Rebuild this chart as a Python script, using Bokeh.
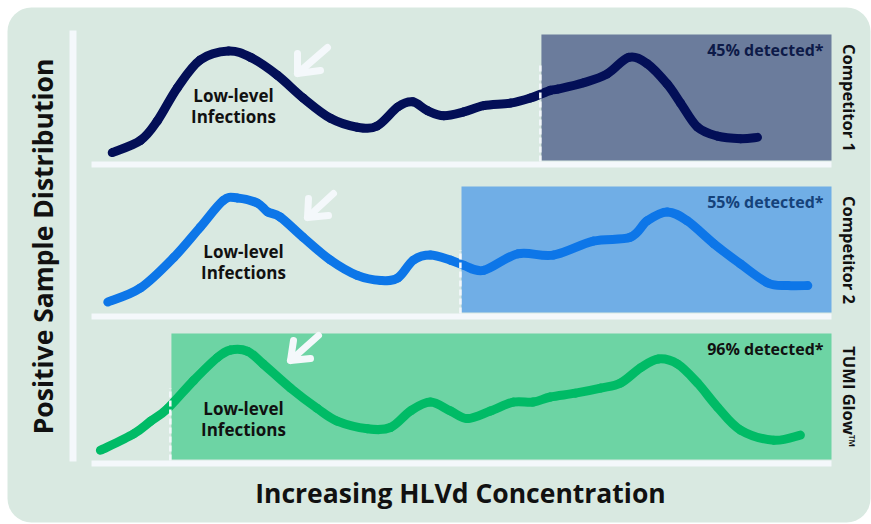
import math
from bokeh.plotting import figure
from bokeh.models import Range1d, BoxAnnotation
from bokeh.core.properties import value
from bokeh.embed import file_html
from bokeh.resources import INLINE

# ---------------- data ----------------
series_names = ["Competitor 1", "Competitor 2", "TUMI Glow™"]
detected_labels = ["45% detected*", "55% detected*", "96% detected*"]
detect_threshold = [60.8, 50.0, 10.8]          # concentration where detection starts
x_label = "Increasing HLVd Concentration"
y_label = "Positive Sample Distribution"
note_text = ["Low-level", "Infections"]

c1_x = [2.8, 6.6, 8.9, 11.6, 14.7, 18.5, 21.5, 25.1, 28.6, 32.3, 35.9, 38.6, 41.4, 43.4,
        45.4, 47.6, 50.3, 53.0, 56.6, 59.3, 62.0, 63.0, 66.5, 69.7, 72.6, 75.1, 77.8,
        79.6, 81.9, 84.6, 87.7, 90.0]
c1_y = [0.07, 0.165, 0.32, 0.58, 0.80, 0.87, 0.82, 0.68, 0.50, 0.34, 0.27, 0.28, 0.43, 0.47,
        0.40, 0.36, 0.39, 0.44, 0.46, 0.50, 0.56, 0.57, 0.62, 0.69, 0.82, 0.77, 0.61,
        0.46, 0.27, 0.20, 0.18, 0.19]

c2_x = [2.2, 6.6, 11.1, 14.7, 17.8, 19.7, 22.4, 23.8, 25.5, 28.6, 32.3, 35.9, 39.1, 41.4,
        43.5, 45.8, 48.5, 50.3, 53.0, 57.6, 62.4, 67.8, 72.8, 75.1, 77.8, 80.5, 84.1,
        87.7, 91.4, 94.1, 96.8]
c2_y = [0.09, 0.20, 0.44, 0.68, 0.89, 0.91, 0.87, 0.80, 0.76, 0.60, 0.42, 0.30, 0.26, 0.28,
        0.42, 0.46, 0.42, 0.38, 0.34, 0.47, 0.46, 0.57, 0.60, 0.73, 0.80, 0.73, 0.55,
        0.39, 0.24, 0.22, 0.22]

c3_x = [1.2, 5.7, 8.0, 10.3, 13.8, 17.0, 18.8, 21.1, 23.2, 26.9, 30.5, 33.2, 37.3, 40.4,
        43.1, 45.8, 48.5, 50.8, 53.9, 57.0, 59.7, 62.0, 65.4, 68.8, 71.5, 74.2, 76.6,
        79.2, 81.9, 84.6, 87.7, 92.2, 95.8]
c3_y = [0.08, 0.21, 0.31, 0.41, 0.63, 0.81, 0.87, 0.86, 0.76, 0.57, 0.41, 0.31, 0.25, 0.26,
        0.39, 0.46, 0.39, 0.33, 0.39, 0.46, 0.46, 0.50, 0.53, 0.57, 0.61, 0.73, 0.80,
        0.76, 0.61, 0.42, 0.24, 0.16, 0.20]

curves_x = [c1_x, c2_x, c3_x]
curves_y = [c1_y, c2_y, c3_y]

# ---------------- layout / style ----------------
W, H = 871, 524
X0PX, X1PX = 91, 831          # pixel span of concentration 0..100
BASE_PX = [161, 313, 460]     # baseline of each panel
PANEL_H = 127

def X(px):
    return (px - X0PX) * 100.0 / (X1PX - X0PX)

def Y(py):
    return (BASE_PX[2] - py) / PANEL_H

def smooth_segments(xs, ys):
    """Catmull-Rom through the data points, as cubic Bezier segments (drawing only)."""
    n = len(xs)
    seg = dict(x0=[], y0=[], x1=[], y1=[], cx0=[], cy0=[], cx1=[], cy1=[])
    for i in range(n - 1):
        i0, i3 = max(i - 1, 0), min(i + 2, n - 1)
        seg["x0"].append(xs[i]); seg["y0"].append(ys[i])
        seg["x1"].append(xs[i + 1]); seg["y1"].append(ys[i + 1])
        seg["cx0"].append(xs[i] + (xs[i + 1] - xs[i0]) / 6)
        seg["cy0"].append(ys[i] + (ys[i + 1] - ys[i0]) / 6)
        seg["cx1"].append(xs[i + 1] - (xs[i3] - xs[i]) / 6)
        seg["cy1"].append(ys[i + 1] - (ys[i3] - ys[i]) / 6)
    return seg

offsets = [Y(b) for b in BASE_PX]
line_colors = ["#030f57", "#0d76e8", "#00bb66"]
box_colors = ["#6b7c9c", "#70aee6", "#6dd4a4"]
det_colors = ["#0d1a48", "#15427a", "#111111"]
dash_tops = [0.77, 0.50, 0.57]
WHITE = "#f4f8fb"
BG = "#d9e9e1"
FONT = value("Open Sans")

p = figure(width=W, height=H, output_backend="svg", toolbar_location=None,
           x_range=Range1d(X(0), X(W)), y_range=Range1d(Y(H), Y(0)),
           x_axis_location=None, y_axis_location=None, min_border=0,
           background_fill_color="white", border_fill_color="white")
p.grid.visible = False
p.outline_line_color = None

p.add_layout(BoxAnnotation(left=X(7), right=X(870), top=Y(7), bottom=Y(522),
                           border_radius=24, fill_color=BG, fill_alpha=1,
                           line_color=None, level="underlay"))

# left axis bar
p.quad(left=[X(69)], right=[X(76)], bottom=[Y(461)], top=[Y(30)],
       fill_color=WHITE, line_color=None)

# arrows: (tail, tip, arm_up, arm_right) in px
arrow_px = [
    [(327, 47), (297, 73), (297, 53), (320, 70)],
    [(333, 193), (307, 217), (308, 198), (328, 215)],
    [(318, 335), (290, 360), (293, 340), (310, 358)],
]
note_px = [(233, 95), (243, 251), (243, 408)]

for k in range(3):
    off = offsets[k]
    # bottom baseline bar
    p.quad(left=[0], right=[100], bottom=[off - 6 / PANEL_H], top=[off],
           fill_color=WHITE, line_color=None)
    # detection box
    p.quad(left=[detect_threshold[k]], right=[100], bottom=[off + 1 / PANEL_H],
           top=[off + 1.0], fill_color=box_colors[k], line_color=None)
    # curve
    seg = smooth_segments(curves_x[k], [off + y for y in curves_y[k]])
    p.bezier(source=seg, x0="x0", y0="y0", x1="x1", y1="y1",
             cx0="cx0", cy0="cy0", cx1="cx1", cy1="cy1",
             line_color=line_colors[k], line_width=9, line_cap="round")
    # dashed threshold line
    xd = detect_threshold[k] - 0.15
    p.segment(x0=[xd], x1=[xd], y0=[off], y1=[off + dash_tops[k]],
              line_color=WHITE, line_width=2.5, line_dash="6 3")
    # arrow
    tail, tip, a1, a2 = arrow_px[k]
    p.line([X(tail[0]), X(tip[0])], [Y(tail[1]), Y(tip[1])],
           line_color=WHITE, line_width=7, line_cap="round")
    p.line([X(a1[0]), X(tip[0]), X(a2[0])], [Y(a1[1]), Y(tip[1]), Y(a2[1])],
           line_color=WHITE, line_width=7, line_cap="round", line_join="round")
    # note text
    nx, ny = note_px[k]
    p.text(x=[X(nx), X(nx)], y=[Y(ny), Y(ny + 21)], text=note_text,
           text_font=FONT, text_font_style="bold", text_font_size="17px",
           text_color="#111111", text_align="center", text_baseline="middle")
    # detected label
    p.text(x=[X(823)], y=[off + 1.0 - 15 / PANEL_H], text=[detected_labels[k]],
           text_font=FONT, text_font_style="bold", text_font_size="16px",
           text_color=det_colors[k], text_align="right", text_baseline="middle")
    # series name at right
    p.text(x=[X(849)], y=[off + 0.5], text=[series_names[k]], angle=-math.pi / 2,
           text_font=FONT, text_font_style="bold", text_font_size="16.5px",
           text_color="#111111", text_align="center", text_baseline="middle")

# axis titles
p.text(x=[X(460)], y=[Y(492)], text=[x_label], text_font=FONT, text_font_style="bold",
       text_font_size="26.5px", text_color="#111111", text_align="center",
       text_baseline="middle")
p.text(x=[X(42)], y=[Y(246)], text=[y_label], angle=math.pi / 2, text_font=FONT,
       text_font_style="bold", text_font_size="26.5px", text_color="#111111",
       text_align="center", text_baseline="middle")

open("out.html", "w").write(file_html(p, INLINE))
